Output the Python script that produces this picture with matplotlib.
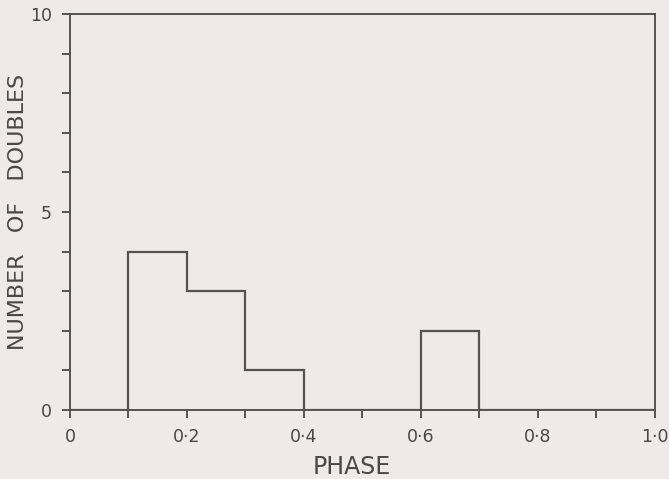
import matplotlib.pyplot as plt
import numpy as np

# doubles counted per 0.1 bin of phase
edges = [0.0, 0.1, 0.2, 0.3, 0.4, 0.5, 0.6, 0.7, 0.8, 0.9, 1.0]
counts = [0, 4, 3, 1, 0, 0, 2, 0, 0, 0]
xticks = [0, 0.2, 0.4, 0.6, 0.8, 1.0]
xticklabels = ["0", "0·2", "0·4", "0·6", "0·8", "1·0"]
yticks = [0, 5, 10]

bg = "#efeae9"
ink = "#555252"

fig = plt.figure(figsize=(6.69, 4.79), dpi=100, facecolor=bg)
ax = fig.add_axes([0.1046, 0.144, 0.8744, 0.827])
ax.set_facecolor(bg)

ax.stairs(counts, edges, color=ink, linewidth=1.6, baseline=0)

ax.set_xlim(0, 1.0)
ax.set_ylim(0, 10)
ax.set_xticks(xticks)
ax.set_xticklabels(xticklabels)
ax.set_xticks(np.arange(0.1, 1.0, 0.2), minor=True)
ax.set_yticks(yticks)
ax.set_yticks([1, 2, 3, 4, 6, 7, 8, 9], minor=True)

for s in ax.spines.values():
    s.set_color(ink)
    s.set_linewidth(1.4)

ax.tick_params(which="both", direction="out", length=6, width=1.4,
               color=ink, labelcolor="#4a4747", labelsize=12.5, pad=7)

ax.set_xlabel("PHASE", fontsize=17, color="#4a4747")
ax.xaxis.set_label_coords(0.482, -0.113)
ax.set_ylabel("NUMBER   OF   DOUBLES", fontsize=16, color="#4a4747")
ax.yaxis.set_label_coords(-0.072, 0.50)

fig.savefig("out.png", dpi=100, facecolor=bg)
